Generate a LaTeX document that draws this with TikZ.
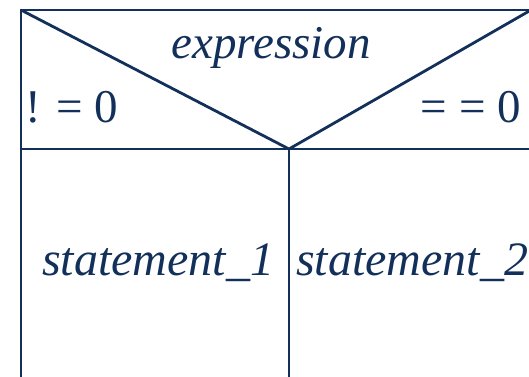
\documentclass[tikz,border=0pt]{standalone}
\usepackage{fontspec}
\setmainfont{Liberation Serif}
\newfontfamily\nsfont{Liberation Serif}
\usetikzlibrary{positioning}
\definecolor{nsblue}{HTML}{12305A}

\begin{document}
\begin{tikzpicture}[x=1pt, y=-1pt,
    frame/.style={draw=nsblue, line width=2.8pt},
    txt/.style={text=nsblue, inner sep=0pt, font=\nsfont\fontsize{47}{50}\selectfont},
    itxt/.style={txt, font=\nsfont\fontsize{47}{50}\selectfont\itshape},
    stxt/.style={txt, font=\nsfont\fontsize{48}{52}\selectfont\itshape}
]
\useasboundingbox (0,0) rectangle (529,376);

% Esquinas del bloque
\coordinate (tl) at (21,10);
\coordinate (tr) at (531,10);
\coordinate (apex) at (289,149);
\coordinate (ml) at (21,149);
\coordinate (mr) at (531,149);
\coordinate (bl) at (21,380);
\coordinate (bm) at (289,380);

% Textos
\node (cond) [itxt, anchor=base] at (271,58) {expression};
\node (neq) [txt, anchor=base west] at (25,122) {! = 0};
\node (eq) [txt, anchor=base east] at (521,122) {= = 0};
\node (stmta) [stxt, anchor=base] at (158,275) {statement\_1};
\node (stmtb) [stxt, anchor=base] at (412,275) {statement\_2};

% Lineas
\draw [frame] (bl) -- (tl) -- (tr);
\draw [frame] (ml) -- (mr);
\draw [frame] (tl) -- (apex) -- (tr);
\draw [frame] (apex) -- (bm);

\end{tikzpicture}
\end{document}
